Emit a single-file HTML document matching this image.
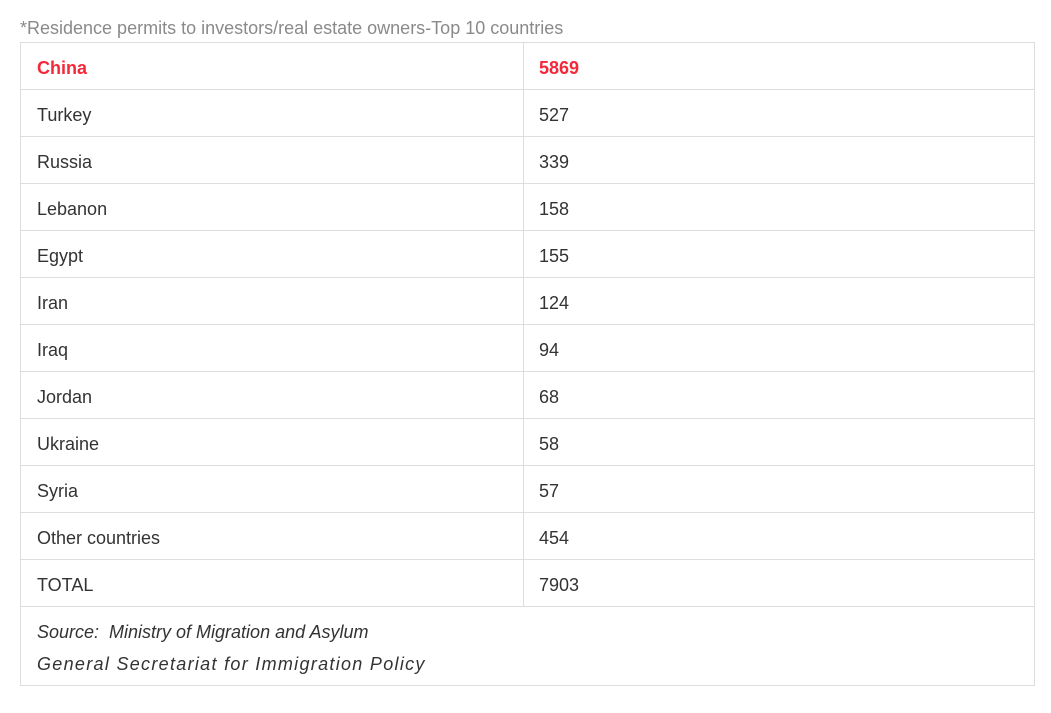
<!DOCTYPE html>
<html><head><meta charset="utf-8"><style>
body{margin:0;width:1051px;height:713px;background:#fff;font-family:"Liberation Sans",sans-serif;position:relative;overflow:hidden}
.t{position:absolute;white-space:nowrap}
.title{left:20px;top:18px;font-size:18px;color:#8a8a8a}
.box{position:absolute;left:20px;top:42px;width:1013px;height:642px;border:1px solid #ddd}
.hl{position:absolute;left:20px;width:1014px;height:1px;background:#ddd}
.vl{position:absolute;left:523px;top:42px;width:1px;height:564px;background:#ddd}
.c{position:absolute;font-size:18px;color:#333;white-space:nowrap}
.red{color:#f5283a;font-weight:bold}
.src{position:absolute;left:37px;font-size:18px;font-style:italic;color:#333;white-space:nowrap}
</style></head><body>
<div class="t title">*Residence permits to investors/real estate owners-Top 10 countries</div>
<div class="box"></div>
<div class="vl"></div>
<div id="rows"></div>
<div class="src" style="top:622px">Source:&nbsp; Ministry of Migration and Asylum</div>
<div class="src" style="top:654px;letter-spacing:1.3px">General Secretariat for Immigration Policy</div>
<script>
const countries=["China","Turkey","Russia","Lebanon","Egypt","Iran","Iraq","Jordan","Ukraine","Syria","Other countries","TOTAL"];
const values=["5869","527","339","158","155","124","94","68","58","57","454","7903"];
const root=document.getElementById('rows');
countries.forEach((c,i)=>{
  const top=42+i*47;
  if(i>0){const l=document.createElement('div');l.className='hl';l.style.top=top+'px';
  
  
  root.appendChild(l);}
  const a=document.createElement('div');a.className='c'+(i==0?' red':'');a.style.left='37px';a.style.top=(top+16)+'px';a.textContent=c;
  
  
  root.appendChild(a);
  const b=document.createElement('div');b.className='c'+(i==0?' red':'');b.style.left='539px';b.style.top=(top+16)+'px';b.textContent=values[i];
  
  
  root.appendChild(b);
});
const l=document.createElement('div');l.className='hl';l.style.top='606px';


root.appendChild(l);
</script>
</body></html>
